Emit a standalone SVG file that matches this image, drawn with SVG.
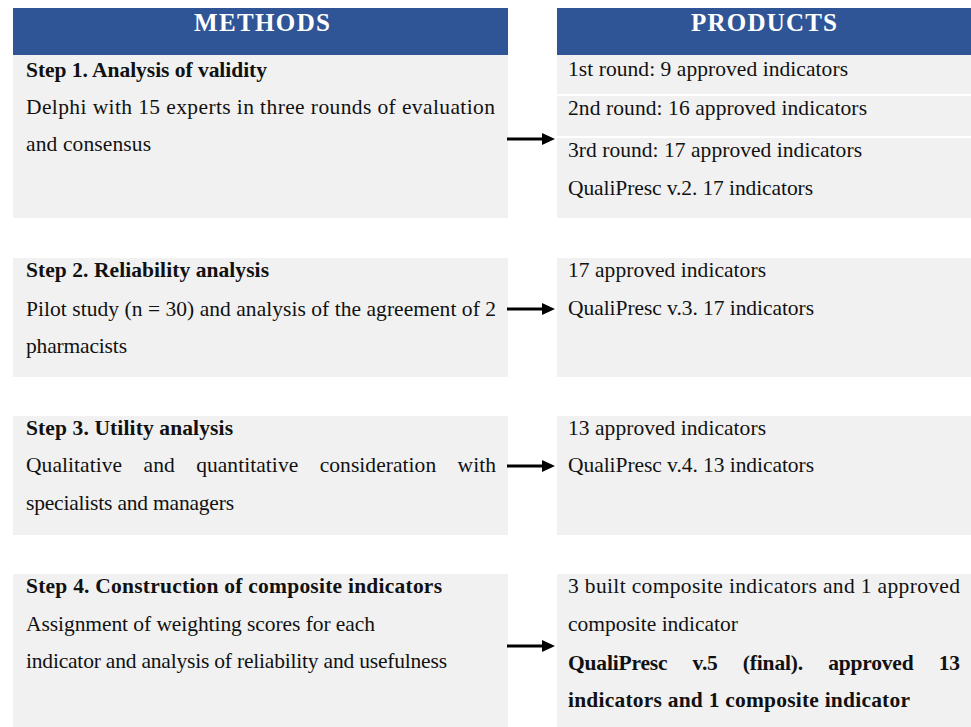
<svg xmlns="http://www.w3.org/2000/svg" width="971" height="727" viewBox="0 0 971 727">
  <style>
    .hdr { fill: #2f5597; }
    .box { fill: #f1f1f1; }
    .sep { stroke: #ffffff; stroke-width: 2; }
    .ht { font-family: "Liberation Serif", "Times New Roman", serif; font-size: 25px; font-weight: bold; fill: #ffffff; }
    .t { font-family: "Liberation Serif", "Times New Roman", serif; font-size: 21.5px; fill: #111111; }
    .b { font-weight: bold; }
    .conn { stroke: #000000; stroke-width: 3; fill: none; }
  </style>
  <defs>
    <marker id="arrow" markerUnits="userSpaceOnUse" markerWidth="14" markerHeight="12" refX="0" refY="6" orient="auto">
      <polygon points="0,0 13,6 0,12" fill="#000000"/>
    </marker>
  </defs>

  <rect width="971" height="727" fill="#ffffff"/>

  <!-- column headers -->
  <g id="methods-header">
    <rect class="hdr" x="13" y="8" width="495" height="47"/>
    <text class="ht" x="262" y="31" text-anchor="middle" textLength="136">METHODS</text>
  </g>
  <g id="products-header">
    <rect class="hdr" x="557" y="8" width="414" height="47"/>
    <text class="ht" x="764" y="31" text-anchor="middle" textLength="146">PRODUCTS</text>
  </g>

  <!-- step 1 -->
  <g id="step1-method">
    <rect class="box" x="13" y="55" width="495" height="163"/>
    <text class="t b" x="26" y="77" textLength="241">Step 1. Analysis of validity</text>
    <text class="t" x="26" y="114" textLength="469">Delphi with 15 experts in three rounds of evaluation</text>
    <text class="t" x="26" y="151" textLength="125">and consensus</text>
  </g>
  <g id="step1-products">
    <rect class="box" x="557" y="55" width="414" height="163"/>
    <line class="sep" x1="557" y1="95" x2="971" y2="95"/>
    <line class="sep" x1="557" y1="137" x2="971" y2="137"/>
    <text class="t" x="568" y="76" textLength="280">1st round: 9 approved indicators</text>
    <text class="t" x="568" y="115" textLength="299">2nd round: 16 approved indicators</text>
    <text class="t" x="568" y="157" textLength="294">3rd round: 17 approved indicators</text>
    <text class="t" x="568" y="195" textLength="245">QualiPresc v.2. 17 indicators</text>
  </g>

  <!-- step 2 -->
  <g id="step2-method">
    <rect class="box" x="13" y="258" width="495" height="119"/>
    <text class="t b" x="26" y="277" textLength="243">Step 2. Reliability analysis</text>
    <text class="t" x="26" y="316" textLength="470">Pilot study (n = 30) and analysis of the agreement of 2</text>
    <text class="t" x="26" y="353" textLength="101">pharmacists</text>
  </g>
  <g id="step2-products">
    <rect class="box" x="557" y="258" width="414" height="119"/>
    <text class="t" x="568" y="277" textLength="198">17 approved indicators</text>
    <text class="t" x="568" y="315" textLength="246">QualiPresc v.3. 17 indicators</text>
  </g>

  <!-- step 3 -->
  <g id="step3-method">
    <rect class="box" x="13" y="416" width="495" height="119"/>
    <text class="t b" x="26" y="435" textLength="207">Step 3. Utility analysis</text>
    <text class="t" x="26" y="472" textLength="470" word-spacing="16">Qualitative and quantitative consideration with</text>
    <text class="t" x="26" y="510" textLength="208">specialists and managers</text>
  </g>
  <g id="step3-products">
    <rect class="box" x="557" y="416" width="414" height="119"/>
    <text class="t" x="568" y="435" textLength="198">13 approved indicators</text>
    <text class="t" x="568" y="472" textLength="246">QualiPresc v.4. 13 indicators</text>
  </g>

  <!-- step 4 -->
  <g id="step4-method">
    <rect class="box" x="13" y="574" width="495" height="153"/>
    <text class="t b" x="26" y="593" textLength="416">Step 4. Construction of composite indicators</text>
    <text class="t" x="26" y="631" textLength="349">Assignment of weighting scores for each</text>
    <text class="t" x="26" y="668" textLength="421">indicator and analysis of reliability and usefulness</text>
  </g>
  <g id="step4-products">
    <rect class="box" x="557" y="574" width="414" height="153"/>
    <text class="t" x="568" y="593" textLength="392">3 built composite indicators and 1 approved</text>
    <text class="t" x="568" y="631" textLength="170">composite indicator</text>
    <text class="t b" x="568" y="670" textLength="392" word-spacing="20">QualiPresc v.5 (final). approved 13</text>
    <text class="t b" x="568" y="707" textLength="342">indicators and 1 composite indicator</text>
  </g>

  <!-- connectors: method to product -->
  <g id="connectors">
    <line class="conn" x1="507" y1="139" x2="542" y2="139" marker-end="url(#arrow)"/>
    <line class="conn" x1="507" y1="309" x2="542" y2="309" marker-end="url(#arrow)"/>
    <line class="conn" x1="507" y1="466" x2="542" y2="466" marker-end="url(#arrow)"/>
    <line class="conn" x1="507" y1="646" x2="542" y2="646" marker-end="url(#arrow)"/>
  </g>
</svg>
